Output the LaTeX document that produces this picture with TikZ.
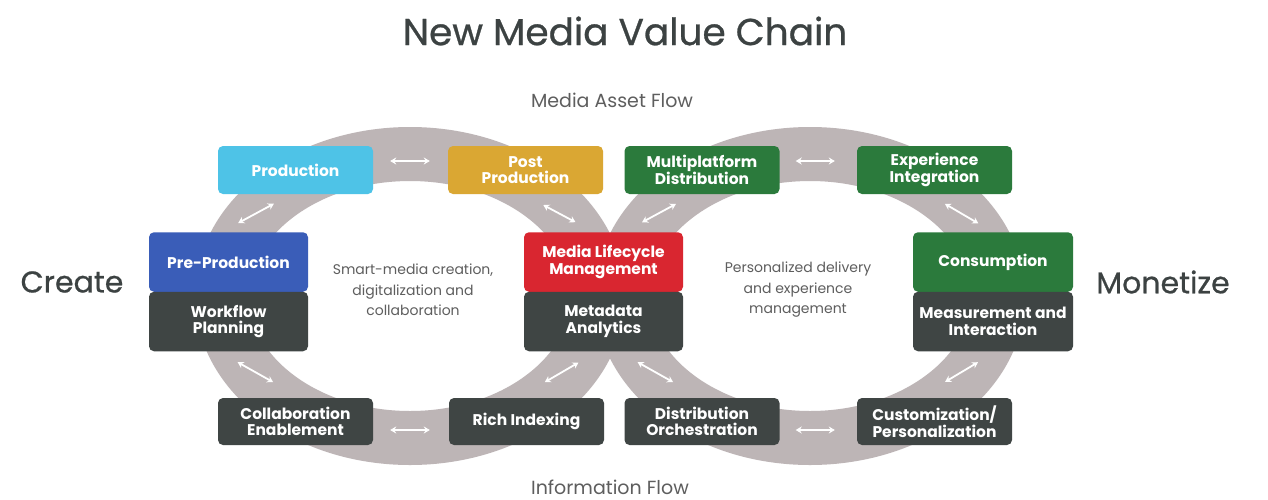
\documentclass[tikz,border=0pt]{standalone}
\usepackage{fontspec}
\setmainfont{Poppins}
\newfontfamily\medfont{Poppins}[FakeBold=0.7]
\usetikzlibrary{arrows.meta}
\definecolor{ringgray}{HTML}{BDB5B6}
\definecolor{cprod}{HTML}{4EC3E7}
\definecolor{cpost}{HTML}{DAA733}
\definecolor{cgreen}{HTML}{2B7A3C}
\definecolor{cred}{HTML}{D92630}
\definecolor{cblue}{HTML}{3A5DB8}
\definecolor{cdark}{HTML}{3F4544}
\definecolor{ctext}{HTML}{3C4242}
\definecolor{clight}{HTML}{5E5E5E}
\begin{document}
\begin{tikzpicture}[x=1pt,y=-1pt,
  ring/.style={draw=ringgray, line width=54pt},
  box/.style={rounded corners=5pt, inner sep=0pt, align=center, text=white,
    font=\bfseries\fontsize{15.5}{16.5}\selectfont},
  wbox/.style={box, minimum width=155pt, minimum height=48pt},
  tbox/.style={box, minimum width=159pt, minimum height=59.5pt},
  arr/.style={white, line width=1.8pt, {Stealth[length=6pt,width=7pt]}-{Stealth[length=6pt,width=7pt]}},
  note/.style={align=center, text=clight, font=\fontsize{14}{20.5}\selectfont},
  side/.style={text=ctext, font=\medfont\fontsize{30}{36}\selectfont},
  flow/.style={text=clight, font=\fontsize{19}{22}\selectfont}
]
\fill[white] (0,0) rectangle (1268,499);
\useasboundingbox (0,0) rectangle (1268,499);

% rings
\draw[ring] (410,296) ellipse [x radius=188pt, y radius=142pt];
\draw[ring] (810,296) ellipse [x radius=188pt, y radius=142pt];

% title and labels
\node[text=ctext, font=\medfont\fontsize{37.5}{44}\selectfont] (title) at (625,31) {New Media Value Chain};
\node[flow] (asset) at (612,100) {Media Asset Flow};
\node[flow] (info) at (610,487) {Information Flow};
\node[side] (create) at (72,282) {Create};
\node[side] (monetize) at (1163,282) {Monetize};
\node[note] (n1) at (413,290) {Smart-media creation,\\digitalization and\\collaboration};
\node[note] (n2) at (798,290) {Personalized delivery\\and experience\\management};

% top row
\node[wbox, fill=cprod] (prod) at (295.5,170) {Production};
\node[wbox, fill=cpost] (post) at (525.5,170) {Post\\Production};
\node[wbox, fill=cgreen] (multi) at (702,170) {Multiplatform\\Distribution};
\node[wbox, fill=cgreen] (exp) at (934.5,170) {Experience\\Integration};

% middle stacks
\node[tbox, fill=cblue] (pre) at (228.5,262) {Pre-Production};
\node[tbox, fill=cdark] (work) at (228.5,321.5) {Workflow\\Planning};
\node[tbox, fill=cred] (mlm) at (603.5,262) {Media Lifecycle\\Management};
\node[tbox, fill=cdark] (meta) at (603.5,321.5) {Metadata\\Analytics};
\node[tbox, fill=cgreen, minimum width=160pt] (cons) at (993,262) {Consumption};
\node[tbox, fill=cdark, minimum width=160pt] (meas) at (993,321.5) {Measurement and\\Interaction};

% bottom row
\node[wbox, fill=cdark, minimum height=47pt] (collab) at (295.5,421.5) {Collaboration\\Enablement};
\node[wbox, fill=cdark, minimum height=47pt] (rich) at (526.5,421.5) {Rich Indexing};
\node[wbox, fill=cdark, minimum height=47pt] (dist) at (702,421.5) {Distribution\\Orchestration};
\node[wbox, fill=cdark, minimum height=47pt] (cust) at (934.5,421.5) {Customization/\\Personalization};

% horizontal connectors
\draw[arr, shorten <=17pt, shorten >=18pt] ([yshift=9pt]prod.east) -- ([yshift=9pt]post.west);
\draw[arr, shorten <=16pt, shorten >=22pt] ([yshift=9pt]multi.east) -- ([yshift=9pt]exp.west);
\draw[arr, shorten <=17pt, shorten >=19pt] ([yshift=-8.5pt]collab.east) -- ([yshift=-8.5pt]rich.west);
\draw[arr, shorten <=16pt, shorten >=22pt] ([yshift=-8.5pt]dist.east) -- ([yshift=-8.5pt]cust.west);

% diagonal connectors
\draw[arr, shorten <=19pt, shorten >=20pt] ([xshift=-7pt]pre.north) -- ([xshift=-4pt]prod.south);
\draw[arr, shorten <=22pt, shorten >=32pt] ([xshift=-10pt]work.south) -- ([xshift=5.5pt]collab.north);
\draw[arr, shorten <=23pt, shorten >=21pt] ([xshift=-2.5pt]post.south) -- ([xshift=-9.5pt]mlm.north);
\draw[arr, shorten <=20.5pt, shorten >=20.5pt] ([xshift=20.5pt]mlm.north) -- ([xshift=-8pt]multi.south);
\draw[arr, shorten <=31pt, shorten >=22pt] ([xshift=-8.5pt]rich.north) -- ([xshift=-6pt]meta.south);
\draw[arr, shorten <=22pt, shorten >=32pt] ([xshift=15pt]meta.south) -- ([xshift=-1pt]dist.north);
\draw[arr, shorten <=19pt, shorten >=17pt] ([xshift=-6pt]exp.south) -- (cons.north);
\draw[arr, shorten <=31pt, shorten >=21pt] ([xshift=-16pt]cust.north) -- ([xshift=3pt]meas.south);
\end{tikzpicture}
\end{document}
